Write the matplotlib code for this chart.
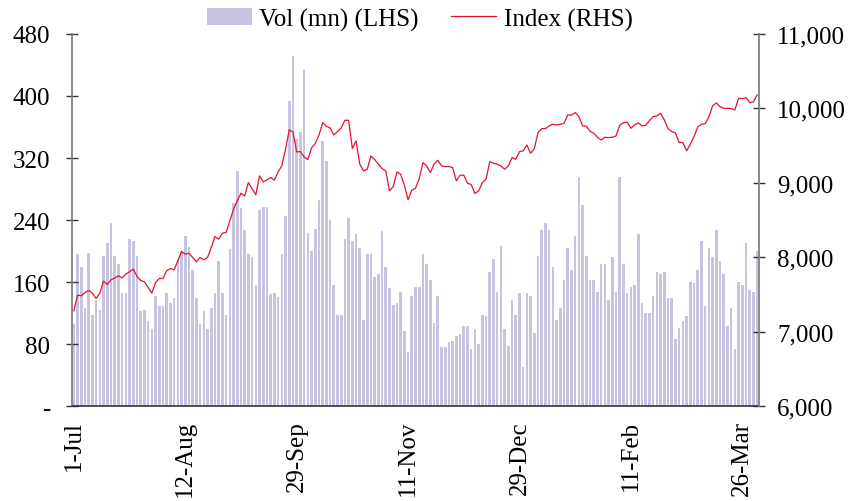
import numpy as np
import matplotlib
matplotlib.use('Agg')
import matplotlib.pyplot as plt

plt.rcParams['font.family'] = ['Liberation Serif', 'DejaVu Serif']
plt.rcParams['font.size'] = 18

# daily volume, mn (left axis)
vol = [106, 196, 180, 126, 197, 117, 137, 124, 193, 210, 236, 193, 183, 146, 146,
       215, 213, 193, 122, 124, 110, 99, 142, 129, 129, 146, 133, 139, 190, 200,
       219, 205, 176, 139, 106, 122, 100, 126, 146, 187, 146, 117, 202, 262, 303,
       255, 227, 196, 192, 156, 253, 257, 257, 145, 146, 141, 196, 245, 394, 451,
       345, 354, 434, 223, 200, 229, 266, 342, 316, 240, 156, 117, 117, 215, 242,
       213, 222, 204, 111, 196, 196, 166, 170, 226, 179, 152, 130, 133, 147, 97,
       70, 142, 153, 153, 196, 183, 162, 107, 142, 76, 76, 83, 84, 90, 93,
       103, 103, 73, 99, 80, 117, 116, 173, 190, 147, 206, 99, 77, 137, 117,
       146, 50, 146, 142, 94, 193, 227, 236, 227, 179, 111, 126, 162, 204, 175,
       219, 296, 259, 193, 162, 162, 147, 183, 183, 137, 192, 147, 296, 183, 146,
       153, 156, 222, 133, 120, 120, 142, 173, 170, 173, 139, 139, 86, 101, 110,
       116, 160, 159, 175, 213, 129, 204, 192, 227, 187, 170, 103, 126, 73, 160,
       156, 210, 150, 147, 200]

# index level (right axis)
index = [7280, 7490, 7482, 7526, 7553, 7517, 7446, 7517, 7679, 7634, 7696, 7719, 7750, 7723, 7773,
         7804, 7840, 7741, 7687, 7670, 7593, 7517, 7660, 7714, 7714, 7817, 7849, 7831, 7950, 8077,
         8041, 8054, 7996, 7938, 7996, 7965, 7996, 8130, 8278, 8242, 8323, 8332, 8489, 8645, 8757,
         8860, 8824, 9003, 8923, 8838, 9093, 9012, 9039, 9071, 9035, 9147, 9227, 9451, 9711, 9684,
         9415, 9420, 9348, 9312, 9469, 9527, 9639, 9809, 9760, 9737, 9643, 9688, 9737, 9840, 9840,
         9460, 9563, 9250, 9160, 9182, 9361, 9312, 9250, 9191, 9160, 8891, 8950, 9147, 9115, 8968,
         8771, 8900, 8927, 9057, 9272, 9227, 9138, 9250, 9303, 9227, 9218, 9218, 9205, 9026, 9102,
         9102, 8994, 8977, 8856, 8892, 9003, 9048, 9285, 9263, 9250, 9227, 9182, 9227, 9339, 9317,
         9420, 9429, 9507, 9397, 9460, 9675, 9728, 9728, 9764, 9787, 9778, 9787, 9800, 9912, 9908,
         9943, 9890, 9764, 9760, 9693, 9666, 9612, 9576, 9612, 9608, 9612, 9630, 9773, 9809, 9814,
         9733, 9778, 9805, 9764, 9773, 9836, 9890, 9899, 9934, 9845, 9728, 9688, 9670, 9541, 9541,
         9429, 9518, 9621, 9751, 9787, 9796, 9885, 10033, 10073, 10024, 10002, 10002, 9997, 9979, 10136,
         10131, 10145, 10078, 10087, 10181]

date_labels = ['1-Jul', '12-Aug', '29-Sep', '11-Nov', '29-Dec', '11-Feb', '26-Mar']
vol_ticks = [0, 80, 160, 240, 320, 400, 480]
vol_labels = ['-', '80', '160', '240', '320', '400', '480']
idx_ticks = [6000, 7000, 8000, 9000, 10000, 11000]
idx_labels = ['6,000', '7,000', '8,000', '9,000', '10,000', '11,000']

x = np.arange(len(vol))

fig = plt.figure(figsize=(8.53, 5.02), dpi=100)
ax = fig.add_axes([0.0844, 0.1892, 0.8054, 0.7411])
ax.bar(x, vol, width=0.7, color='#c6c4e1', label='Vol (mn) (LHS)')
ax.set_xlim(-0.5, len(vol) - 0.5)
ax.set_ylim(0, 480)
ax.set_yticks(vol_ticks)
ax.set_yticklabels(vol_labels)
ax.set_xticks(x[::30])
ax.set_xticklabels(date_labels, rotation=90)
ax.tick_params(axis='y', direction='inout', length=8.6, width=1, color='#333333', pad=11.5)
ax.tick_params(axis='x', length=0, pad=10)

ax2 = ax.twinx()
ax2.plot(x, index, color='#e8112d', lw=0.9, label='Index (RHS)')
ax2.set_ylim(6000, 11000)
ax2.set_yticks(idx_ticks)
ax2.set_yticklabels(idx_labels)
ax2.tick_params(axis='y', direction='inout', length=8.6, width=1, color='#333333', pad=8.6)

for a in (ax, ax2):
    a.spines['top'].set_visible(False)
ax.spines['right'].set_visible(False)
ax2.spines['left'].set_visible(False)
ax2.spines['bottom'].set_visible(False)
ax.spines['left'].set_color('#808080')
ax.spines['left'].set_linewidth(1.3)
ax2.spines['right'].set_color('#808080')
ax2.spines['right'].set_linewidth(1.3)
ax.spines['bottom'].set_color('#333333')
ax.spines['bottom'].set_linewidth(1.2)

h1, l1 = ax.get_legend_handles_labels()
h2, l2 = ax2.get_legend_handles_labels()
fig.legend(h1 + h2, l1 + l2, loc='center', bbox_to_anchor=(0.492, 0.96), ncol=2,
           frameon=False, handlelength=1.8, handletextpad=0.3, columnspacing=1.3,
           borderaxespad=0, borderpad=0)

fig.savefig('out.png', dpi=100)
